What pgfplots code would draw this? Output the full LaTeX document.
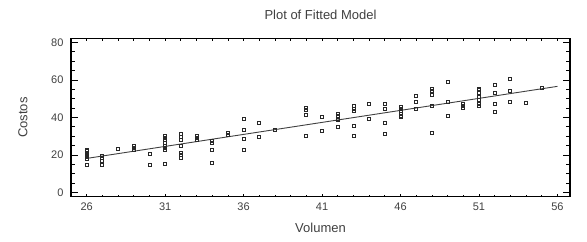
\documentclass[border=0pt]{standalone}
\usepackage{pgfplots}
\pgfplotsset{compat=1.18}
\usepackage{fontspec}
\setmainfont{Liberation Sans}
\definecolor{txt}{HTML}{404040}
\definecolor{mk}{HTML}{282828}
\definecolor{ln}{HTML}{404040}
\begin{document}
\begin{tikzpicture}
\path[use as bounding box] (-71bp,-45.3bp) rectangle (516bp,196.7bp);
\begin{axis}[
  at={(0,0)}, anchor=south west,
  scale only axis, width=499bp, height=158bp,
  xmin=25, xmax=56.8, ymin=-2.2, ymax=82,
  xtick={26,31,36,41,46,51,56}, minor x tick num=4,
  ytick={0,20,40,60,80}, minor y tick num=3,
  axis line style={black, line width=1.2bp},
  tick style={black, line width=0.8bp},
  xtick style={/pgfplots/major tick length=2.5bp, /pgfplots/minor tick length=2bp},
  ytick style={/pgfplots/major tick length=7bp, /pgfplots/minor tick length=4.5bp},
  /pgf/number format/assume math mode=true,
  tick label style={font=\fontsize{11bp}{13bp}\selectfont, text=txt},
  x tick label style={yshift=-3bp},
  y tick label style={xshift=-4bp},
  every axis title/.style={font=\fontsize{13bp}{15bp}\selectfont, text=txt, at={(axis description cs:0.5,1)}, anchor=center, yshift=23.7bp},
  every axis x label/.style={font=\fontsize{13bp}{15bp}\selectfont, text=txt, at={(axis description cs:0.5,0)}, anchor=center, yshift=-31.3bp},
  every axis y label/.style={font=\fontsize{13bp}{15bp}\selectfont, text=txt, at={(axis description cs:-0.0962,0.5)}, anchor=center, rotate=90},
  title={Plot of Fitted Model},
  xlabel={Volumen}, ylabel={Costos},
]
\addplot[ln, line width=0.9bp] coordinates {(26,18.2) (56,56.6)};
\addplot[only marks, mark=square, mark size=1.5bp, mark options={mk, line width=0.8bp}] coordinates {
(26,23) (26,22) (26,21) (26,20) (26,19) (26,18) (26,14.5)
(27,19.5) (27,18.5) (27,17) (27,14.5)
(28,23.2)
(29,25) (29,24) (29,23)
(30,20.5) (30,15)
(31,30) (31,29) (31,28) (31,26.5) (31,25) (31,24) (31,23) (31,15.5)
(32,31.5) (32,29.5) (32,28) (32,25) (32,21) (32,20) (32,18.5)
(33,30) (33,29) (33,28)
(34,27.5) (34,26.5) (34,23) (34,16)
(35,32) (35,30.5)
(36,39) (36,33.5) (36,28.5) (36,23)
(37,37) (37,29.5)
(38,33.5)
(40,45) (40,44) (40,41.5) (40,30)
(41,40.5) (41,33)
(42,42) (42,41) (42,39.5) (42,38.5) (42,35)
(43,46) (43,44.5) (43,43.5) (43,35.5) (43,30)
(44,47.5) (44,39)
(45,47.5) (45,44.5) (45,37) (45,31.5)
(46,45.5) (46,44.5) (46,43.5) (46,42) (46,41) (46,40.5)
(47,51.5) (47,48.5) (47,44.5)
(48,55) (48,54) (48,52) (48,46) (48,32)
(49,59) (49,48.5) (49,41)
(50,47.5) (50,46) (50,45)
(51,55.5) (51,54.5) (51,53) (51,51) (51,49.5) (51,47.5) (51,46)
(52,57.5) (52,53) (52,47.5) (52,43)
(53,60.5) (53,54) (53,48.5)
(54,48)
(55,56)
};
\end{axis}
\end{tikzpicture}
\end{document}
